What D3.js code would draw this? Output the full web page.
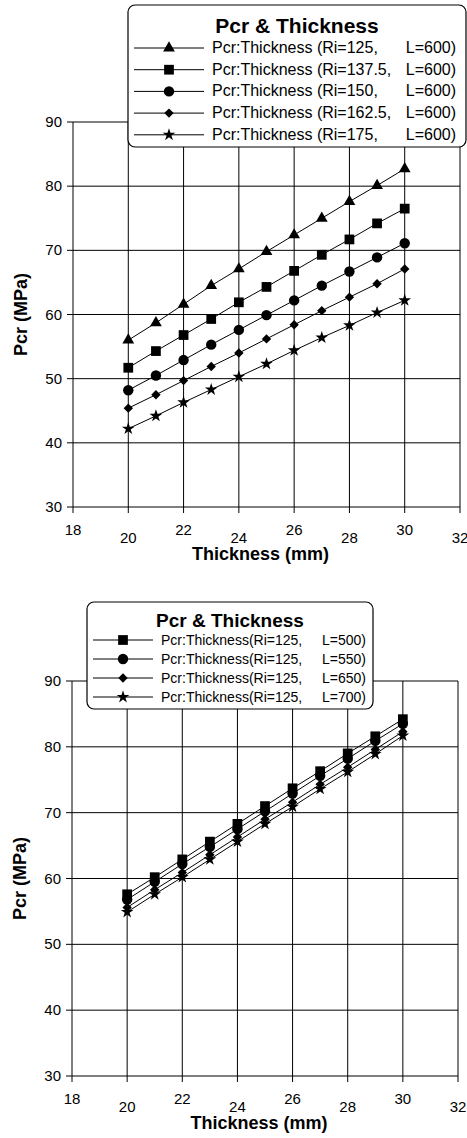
<!DOCTYPE html>
<html>
<head>
<meta charset="utf-8">
<script src="https://cdn.jsdelivr.net/npm/d3@7"></script>
<style>
  body { margin: 0; background: #fff; }
  svg { display: block; }
</style>
</head>
<body>
<svg id="chart" width="467" height="1138"></svg>
<script>
// thickness (mm)
var thickness = [20, 21, 22, 23, 24, 25, 26, 27, 28, 29, 30];
var xTicks = [18, 20, 22, 24, 26, 28, 30, 32];
var yTicks = [30, 40, 50, 60, 70, 80, 90];

// top chart: L=600, varying Ri
var topNames = ["Pcr:Thickness (Ri=125,", "Pcr:Thickness (Ri=137.5,", "Pcr:Thickness (Ri=150,",
                "Pcr:Thickness (Ri=162.5,", "Pcr:Thickness (Ri=175,"];
var topL = ["L=600)", "L=600)", "L=600)", "L=600)", "L=600)"];
var ri125 = [56.0, 58.7, 61.6, 64.5, 67.1, 69.8, 72.4, 75.0, 77.6, 80.1, 82.7];
var ri1375 = [51.7, 54.3, 56.8, 59.3, 61.9, 64.3, 66.8, 69.3, 71.7, 74.2, 76.5];
var ri150 = [48.2, 50.5, 52.9, 55.3, 57.6, 59.9, 62.2, 64.5, 66.7, 68.9, 71.1];
var ri1625 = [45.4, 47.5, 49.7, 51.9, 54.0, 56.2, 58.4, 60.6, 62.7, 64.8, 67.1];
var ri175 = [42.2, 44.2, 46.3, 48.3, 50.3, 52.3, 54.4, 56.4, 58.3, 60.3, 62.2];

// bottom chart: Ri=125, varying L
var botNames = ["Pcr:Thickness(Ri=125,", "Pcr:Thickness(Ri=125,", "Pcr:Thickness(Ri=125,", "Pcr:Thickness(Ri=125,"];
var botL = ["L=500)", "L=550)", "L=650)", "L=700)"];
var l500 = [57.6, 60.2, 62.9, 65.6, 68.3, 71.0, 73.7, 76.3, 79.0, 81.6, 84.2];
var l550 = [56.8, 59.5, 62.2, 64.8, 67.5, 70.2, 72.9, 75.6, 78.2, 80.9, 83.5];
var l650 = [55.6, 58.3, 60.9, 63.6, 66.3, 69.0, 71.6, 74.3, 76.9, 79.6, 82.3];
var l700 = [54.9, 57.6, 60.2, 62.9, 65.6, 68.3, 70.9, 73.6, 76.2, 78.9, 81.7];

var svg = d3.select("#chart");
var font = "'Liberation Sans', Arial, sans-serif";

// marker shapes; diamond is a square turned 45deg
var shapes = {
  triangle: {sym: d3.symbol().type(d3.symbolTriangle).size(60), rot: 0},
  square: {sym: d3.symbol().type(d3.symbolSquare).size(95), rot: 0},
  circle: {sym: d3.symbol().type(d3.symbolCircle).size(85), rot: 0},
  diamond: {sym: d3.symbol().type(d3.symbolSquare).size(44), rot: 45},
  star: {sym: d3.symbol().type(d3.symbolStar).size(50), rot: 0}
};

var drawChart = function(cfg) {
  var g = svg.append("g");
  var x = d3.scaleLinear().domain([18, 32]).range([cfg.left, cfg.right]);
  var y = d3.scaleLinear().domain([30, 90]).range([cfg.bottom, cfg.top]);

  // grid
  g.selectAll(".hg").data(yTicks).join("line")
    .attr("x1", cfg.left - 6).attr("x2", cfg.right)
    .attr("y1", d => y(d)).attr("y2", d => y(d))
    .attr("stroke", "#000").attr("stroke-width", 1);
  g.selectAll(".vg").data(xTicks).join("line")
    .attr("x1", d => x(d)).attr("x2", d => x(d))
    .attr("y1", cfg.top).attr("y2", cfg.bottom + 6)
    .attr("stroke", "#000").attr("stroke-width", 1);

  // y tick labels
  g.selectAll(".yl").data(yTicks).join("text")
    .attr("x", cfg.left - 11).attr("y", d => y(d) + 5)
    .attr("text-anchor", "end")
    .attr("font-family", font).attr("font-size", 15)
    .text(d => d);

  // x tick labels, staggered
  g.selectAll(".xl").data(xTicks).join("text")
    .attr("x", d => x(d)).attr("y", (d, i) => cfg.bottom + (i % 2 ? 36 : 28))
    .attr("text-anchor", "middle")
    .attr("font-family", font).attr("font-size", 15)
    .text(d => d);

  // axis titles
  g.append("text")
    .attr("x", (cfg.left + cfg.right) / 2 - 6).attr("y", cfg.bottom + 53)
    .attr("text-anchor", "middle")
    .attr("font-family", font).attr("font-size", 18).attr("font-weight", "bold")
    .text("Thickness (mm)");
  g.append("text")
    .attr("transform", `translate(${cfg.left - 46},${(cfg.top + cfg.bottom) / 2}) rotate(-90)`)
    .attr("text-anchor", "middle")
    .attr("font-family", font).attr("font-size", 18).attr("font-weight", "bold")
    .text("Pcr (MPa)");

  var line = d3.line().x((d, i) => x(thickness[i])).y(d => y(d));

  cfg.series.forEach(function(s) {
    var sh = shapes[s.shape];
    g.append("path").attr("d", line(s.values))
      .attr("fill", "none").attr("stroke", "#000").attr("stroke-width", 1);
    g.selectAll(null).data(s.values).join("path")
      .attr("d", sh.sym())
      .attr("transform", (d, i) => `translate(${x(thickness[i])},${y(d)}) rotate(${sh.rot})`)
      .attr("fill", "#000");
  });

  // legend
  var lg = cfg.legend;
  g.append("rect")
    .attr("x", lg.x).attr("y", lg.y).attr("width", lg.w).attr("height", lg.h)
    .attr("rx", 7).attr("fill", "#fff").attr("stroke", "#000").attr("stroke-width", 1.2);
  g.append("text")
    .attr("x", lg.x + lg.w / 2).attr("y", lg.y + lg.titleY)
    .attr("text-anchor", "middle")
    .attr("font-family", font).attr("font-size", lg.titleSize).attr("font-weight", "bold")
    .text("Pcr & Thickness");
  cfg.series.forEach(function(s, i) {
    var yy = lg.y + lg.first + i * lg.step;
    var sh = shapes[s.shape];
    g.append("line").attr("x1", lg.x + 6).attr("x2", lg.x + 6 + lg.lineW)
      .attr("y1", yy).attr("y2", yy).attr("stroke", "#000").attr("stroke-width", 1);
    g.append("path").attr("d", sh.sym())
      .attr("transform", `translate(${lg.x + 6 + lg.lineW / 2},${yy}) rotate(${sh.rot})`)
      .attr("fill", "#000");
    g.append("text").attr("x", lg.x + lg.lineW + 14).attr("y", yy + 5)
      .attr("font-family", font).attr("font-size", lg.size).text(s.name);
    g.append("text").attr("x", lg.x + lg.w - lg.pad).attr("y", yy + 5)
      .attr("text-anchor", "end")
      .attr("font-family", font).attr("font-size", lg.size).text(s.l);
  });
};

drawChart({
  left: 73, right: 460, top: 122, bottom: 507,
  series: [
    {name: topNames[0], l: topL[0], values: ri125, shape: "triangle"},
    {name: topNames[1], l: topL[1], values: ri1375, shape: "square"},
    {name: topNames[2], l: topL[2], values: ri150, shape: "circle"},
    {name: topNames[3], l: topL[3], values: ri1625, shape: "diamond"},
    {name: topNames[4], l: topL[4], values: ri175, shape: "star"}
  ],
  legend: {x: 128, y: 5, w: 338, h: 142, first: 43, step: 21.7, lineW: 70,
           size: 16, pad: 10, titleSize: 21, titleY: 28}
});

drawChart({
  left: 72, right: 458, top: 681, bottom: 1076,
  series: [
    {name: botNames[0], l: botL[0], values: l500, shape: "square"},
    {name: botNames[1], l: botL[1], values: l550, shape: "circle"},
    {name: botNames[2], l: botL[2], values: l650, shape: "diamond"},
    {name: botNames[3], l: botL[3], values: l700, shape: "star"}
  ],
  legend: {x: 87, y: 602, w: 286, h: 107, first: 38, step: 19, lineW: 60,
           size: 14, pad: 7, titleSize: 19, titleY: 25}
});
</script>
</body>
</html>
